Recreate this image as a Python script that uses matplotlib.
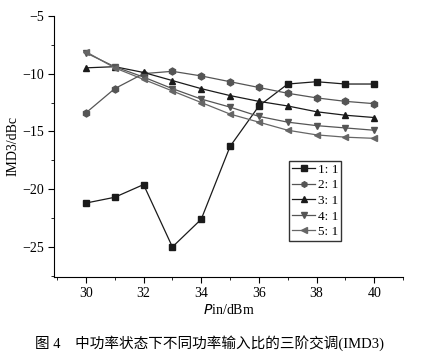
import matplotlib
matplotlib.use("Agg")
import matplotlib.pyplot as plt
from matplotlib.ticker import MultipleLocator

plt.rcParams['font.family'] = ['Liberation Serif', 'Noto Sans CJK SC']
plt.rcParams['axes.unicode_minus'] = True

pin = [30, 31, 32, 33, 34, 35, 36, 37, 38, 39, 40]
r1 = [-21.2, -20.7, -19.6, -25.0, -22.6, -16.3, -12.8, -10.9, -10.7, -10.9, -10.9]
r2 = [-13.4, -11.3, -10.0, -9.8, -10.2, -10.7, -11.2, -11.7, -12.1, -12.4, -12.6]
r3 = [-9.5, -9.4, -9.9, -10.6, -11.3, -11.9, -12.4, -12.8, -13.3, -13.6, -13.8]
r4 = [-8.2, -9.4, -10.3, -11.3, -12.2, -12.9, -13.7, -14.2, -14.5, -14.7, -14.9]
r5 = [-8.1, -9.5, -10.5, -11.5, -12.5, -13.5, -14.2, -14.9, -15.3, -15.5, -15.6]
labels = ['1: 1', '2: 1', '3: 1', '4: 1', '5: 1']
xticks = [30, 32, 34, 36, 38, 40]
yticks = [-5, -10, -15, -20, -25]

fig = plt.figure(figsize=(4.23, 3.52), dpi=100)
ax = fig.add_axes([0.128, 0.213, 0.825, 0.742])

series = [r1, r2, r3, r4, r5]
markers = ['s', 'h', '^', 'v', '<']
colors = ['#1a1a1a', '#555555', '#1a1a1a', '#555555', '#666666']
for s, m, c, lab in zip(series, markers, colors, labels):
    ax.plot(pin, s, marker=m, color=c, markersize=5, linewidth=0.9,
            label=lab, markeredgecolor=c)

ax.set_xlim(28.9, 41.0)
ax.set_ylim(-27.6, -5)
ax.set_xticks(xticks)
ax.set_yticks(yticks)
ax.xaxis.set_minor_locator(MultipleLocator(1))
ax.yaxis.set_minor_locator(MultipleLocator(2.5))
ax.spines['top'].set_visible(False)
ax.spines['right'].set_visible(False)
ax.tick_params(direction='out', length=4, labelsize=10)
ax.tick_params(which='minor', direction='out', length=2)
ax.set_xlabel('$\\it{P}$in/dBm', fontsize=10, labelpad=2)
ax.set_ylabel('IMD3/dBc', fontsize=10, labelpad=2)

leg = ax.legend(loc='upper left', bbox_to_anchor=(0.673, 0.444), fontsize=9.5,
                frameon=True, fancybox=False, edgecolor='#333333',
                framealpha=1.0, markerscale=0.8,
                handlelength=1.8, handletextpad=0.2, borderpad=0.2,
                labelspacing=0.25, borderaxespad=0)

fig.text(0.083, 0.026, '图 4　中功率状态下不同功率输入比的三阶交调(IMD3)',
         fontsize=10.5, ha='left', va='center')

fig.savefig('out.png', dpi=100)
